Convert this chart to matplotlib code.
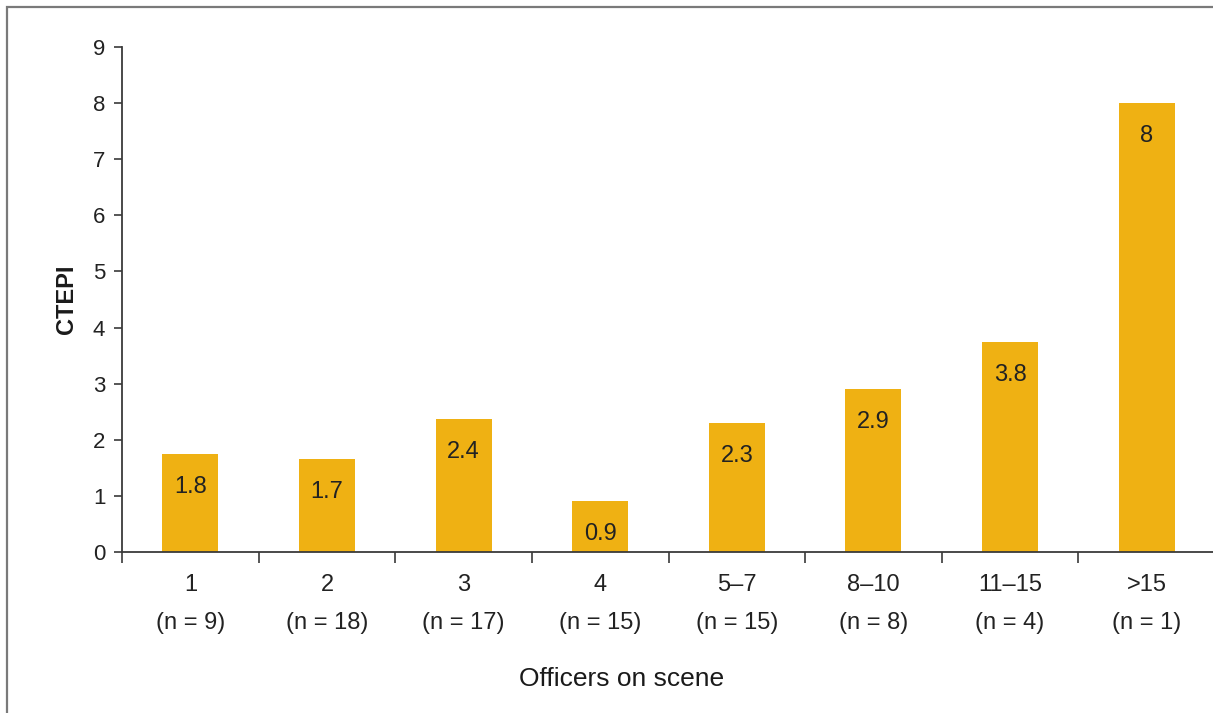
import numpy as np
import matplotlib
matplotlib.use('Agg')
import matplotlib.pyplot as plt
from matplotlib.patches import Rectangle

categories = ['1', '2', '3', '4', '5\u20137', '8\u201310', '11\u201315', '>15']
n_counts = [9, 18, 17, 15, 15, 8, 4, 1]
ctepi = [1.75, 1.66, 2.37, 0.91, 2.30, 2.91, 3.74, 8.0]
bar_labels = ['1.8', '1.7', '2.4', '0.9', '2.3', '2.9', '3.8', '8']

BAR_COLOR = '#EFB113'
AXIS_COLOR = '#3a3a3a'

plt.rcParams.update({
    'font.family': ['Liberation Sans Narrow', 'Liberation Sans', 'DejaVu Sans'],
    'font.size': 16,
})

W, H = 1213, 713
fig = plt.figure(figsize=(W / 100, H / 100), dpi=100)
ax = fig.add_axes([122 / W, 1 - 552 / H, (1215 - 122) / W, (552 - 47) / H])

# frame around the figure (left + top visible)
fig.patches.append(Rectangle((7 / W, -0.1), 1.2, 1.1 - 7 / H, transform=fig.transFigure,
                             fill=False, edgecolor='#7a7a7a', linewidth=1.6, zorder=0))

x = np.arange(len(categories))
bars = ax.bar(x, ctepi, width=0.41, color=BAR_COLOR, zorder=2)
for b, lab in zip(bars, bar_labels):
    ax.annotate(lab, (b.get_x() + b.get_width() / 2, b.get_height()),
                xytext=(0, -24), textcoords='offset points', ha='center', va='center',
                fontsize=17, color='#222222')

ax.set_xlim(-0.5, len(categories) - 0.5)
ax.set_ylim(0, 9)
ax.set_yticks(range(10))
ax.tick_params(axis='y', direction='out', length=6, width=1.2, colors=AXIS_COLOR,
               labelsize=16, pad=6, labelcolor='#222222')

# ticks at category boundaries, labels centred under bars
ax.set_xticks(np.arange(-0.5, len(categories) + 0.5, 1.0))
ax.set_xticklabels([])
ax.set_xticks(x, minor=True)
ax.set_xticklabels([f'{c}\n(n = {n})' for c, n in zip(categories, n_counts)], minor=True,
                   linespacing=1.95)
ax.tick_params(axis='x', which='major', direction='out', length=8, width=1.2, colors=AXIS_COLOR)
ax.tick_params(axis='x', which='minor', length=0, labelsize=17, pad=16, labelcolor='#222222')

for s in ['top', 'right']:
    ax.spines[s].set_visible(False)
for s in ['left', 'bottom']:
    ax.spines[s].set_color(AXIS_COLOR)
    ax.spines[s].set_linewidth(1.3)

ax.set_ylabel('CTEPI', fontsize=17, fontweight='bold', color='#1a1a1a')
ax.yaxis.set_label_coords(-44 / (1215 - 122), 0.5)
ax.set_xlabel('Officers on scene', fontsize=19, color='#1a1a1a')
ax.xaxis.set_label_coords((622 - 122) / (1215 - 122), -115 / (552 - 47))

fig.savefig('out.png', dpi=100)
